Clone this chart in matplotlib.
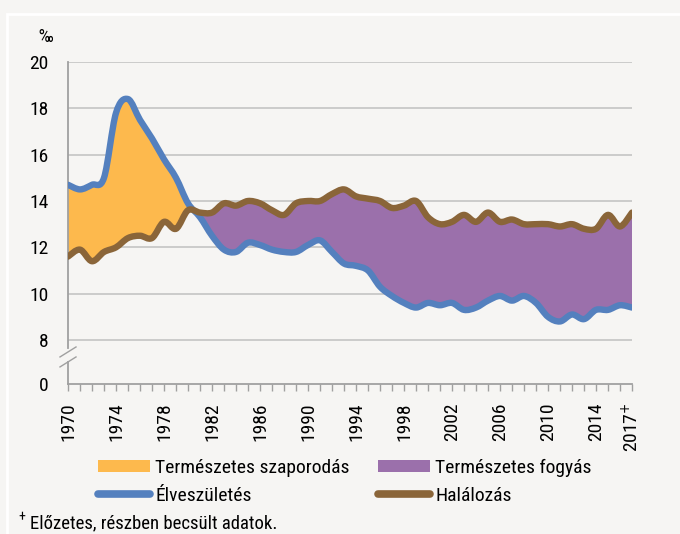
import numpy as np
import matplotlib.pyplot as plt
from matplotlib.patches import Patch, Rectangle, PathPatch
from matplotlib.lines import Line2D
from matplotlib.path import Path

plt.rcParams['font.family'] = ['Roboto Condensed', 'Liberation Sans Narrow', 'Open Sans Condensed',
                               'DejaVu Sans Condensed', 'Liberation Sans', 'DejaVu Sans']
plt.rcParams['font.stretch'] = 'condensed'

# éves adatok, ezer lakosra
years = list(range(1970, 2018))
births = [14.7, 14.5, 14.7, 15.0, 17.8, 18.4, 17.5, 16.7, 15.8, 15.0,
          13.9, 13.3, 12.5, 11.9, 11.8, 12.2, 12.1, 11.9, 11.8, 11.8,
          12.1, 12.3, 11.8, 11.3, 11.2, 11.0, 10.3, 9.9, 9.6, 9.4,
          9.6, 9.5, 9.6, 9.3, 9.4, 9.7, 9.9, 9.7, 9.9, 9.6,
          9.0, 8.8, 9.1, 8.9, 9.3, 9.3, 9.5, 9.4]
deaths = [11.6, 11.9, 11.4, 11.8, 12.0, 12.4, 12.5, 12.4, 13.1, 12.8,
          13.6, 13.5, 13.5, 13.9, 13.8, 14.0, 13.9, 13.6, 13.4, 13.9,
          14.0, 14.0, 14.3, 14.5, 14.2, 14.1, 14.0, 13.7, 13.8, 14.0,
          13.3, 13.0, 13.1, 13.4, 13.1, 13.5, 13.1, 13.2, 13.0, 13.0,
          13.0, 12.9, 13.0, 12.8, 12.8, 13.4, 12.9, 13.5]
tick_years = [1970, 1974, 1978, 1982, 1986, 1990, 1994, 1998, 2002, 2006, 2010, 2014, 2017]
tick_labels = ['1970', '1974', '1978', '1982', '1986', '1990', '1994', '1998',
               '2002', '2006', '2010', '2014', '2017$^{+}$']
y_ticks = [8, 10, 12, 14, 16, 18, 20]

bg = '#f6f5f3'
orange = '#fdb94d'
purple = '#9b70ab'
blue = '#5480be'
brown = '#8a6539'
grid = '#c0c0c0'
axis_c = '#a0a0a0'

x = np.array(years, dtype=float)
b = np.array(births)
d = np.array(deaths)
y0 = 6.1  # a tengelytörés alatti "0" helye


def smooth_verts(xs, ys):
    # Excel-szerű simított vonal köbös Bézier-görbékkel
    pts = np.column_stack([xs, ys])
    n = len(pts)
    verts = [pts[0]]
    for i in range(n - 1):
        p0 = pts[i - 1] if i > 0 else pts[i]
        p1 = pts[i]
        p2 = pts[i + 1]
        p3 = pts[i + 2] if i + 2 < n else pts[i + 1]
        verts += [p1 + (p2 - p0) / 6, p2 - (p3 - p1) / 6, p2]
    codes = [Path.MOVETO] + [Path.CURVE4] * (len(verts) - 1)
    return verts, codes


vb, cb = smooth_verts(x, b)
vd, cd = smooth_verts(x, d)

# a két görbe közötti terület
area = Path(vb + vd[::-1] + [vb[0]],
            cb + [Path.LINETO] + [Path.CURVE4] * (len(vd) - 1) + [Path.CLOSEPOLY])
diff = b - d
i = np.where(np.sign(diff[:-1]) != np.sign(diff[1:]))[0][0]
cross = x[i] + diff[i] / (diff[i] - diff[i + 1])

fig = plt.figure(figsize=(6.8, 5.34), dpi=100, facecolor=bg)
fig.patches.append(Rectangle((7 / 680, -0.1), 1.2, (534 - 14) / 534 + 0.1,
                             transform=fig.transFigure, facecolor=bg,
                             edgecolor='white', lw=2, zorder=-5))
ax = fig.add_axes([68 / 680, (534 - 384) / 534, 564 / 680, 322 / 534])
ax.set_facecolor(bg)
ax.set_zorder(2)

p_plus = ax.add_patch(PathPatch(area, facecolor=orange, edgecolor='none', zorder=2))
p_plus.set_clip_path(Rectangle((1960, 0), cross - 1960, 30, transform=ax.transData))
p_minus = ax.add_patch(PathPatch(area, facecolor=purple, edgecolor='none', zorder=2))
p_minus.set_clip_path(Rectangle((cross, 0), 2030 - cross, 30, transform=ax.transData))

ax.add_patch(PathPatch(Path(vb, cb), facecolor='none', edgecolor=blue, lw=4.6,
                       joinstyle='round', capstyle='round', zorder=3))
ax.add_patch(PathPatch(Path(vd, cd), facecolor='none', edgecolor=brown, lw=4.6,
                       joinstyle='round', capstyle='round', zorder=4))

ax.set_xlim(1970, 2017)
ax.set_ylim(y0, 20)
for t in y_ticks:
    ax.axhline(t, color=grid, lw=1.1, zorder=1)
ax.set_yticks([y0] + y_ticks)
ax.set_yticklabels(['0'] + [str(t) for t in y_ticks], fontsize=14)
ax.tick_params(axis='y', length=0, pad=14)

ax.set_xticks(years, minor=True)
ax.set_xticks(tick_years)
ax.set_xticklabels(tick_labels, rotation=90, fontsize=14)
ax.tick_params(axis='x', which='both', direction='out', length=5, width=1, color=axis_c, pad=8)

for s in ['top', 'right', 'left']:
    ax.spines[s].set_visible(False)
ax.spines['bottom'].set_color(axis_c)
ax.spines['bottom'].set_linewidth(1.3)

# bal tengely törése
ax.plot([0, 0], [0, 0.068], color=axis_c, lw=1.3, transform=ax.transAxes, clip_on=False)
ax.plot([0, 0], [0.112, 1], color=axis_c, lw=1.3, transform=ax.transAxes, clip_on=False)
ax.plot([-0.0142, 0.0142], [0.084, 0.115], color=axis_c, lw=1, transform=ax.transAxes, clip_on=False)
ax.plot([-0.0142, 0.0142], [0.053, 0.084], color=axis_c, lw=1, transform=ax.transAxes, clip_on=False)

fig.text(38 / 680, 1 - 37 / 534, '‰', fontsize=13, va='center', ha='left')

handles = [Patch(facecolor=orange, edgecolor='none'),
           Line2D([], [], color=blue, lw=5.5, solid_capstyle='round'),
           Patch(facecolor=purple, edgecolor='none'),
           Line2D([], [], color=brown, lw=5.5, solid_capstyle='round')]
labels = ['Természetes szaporodás', 'Élveszületés', 'Természetes fogyás', 'Halálozás']
fig.legend(handles, labels, ncol=2, loc='upper left',
           bbox_to_anchor=(98 / 680, 1 - 459 / 534), frameon=False, fontsize=14,
           handlelength=2.65, handleheight=0.57, handletextpad=0.3,
           columnspacing=1.45, labelspacing=0.5, borderpad=0, borderaxespad=0)

fig.text(18 / 680, 1 - 517 / 534, '+', fontsize=10, va='center', ha='left')
fig.text(30 / 680, 1 - 523 / 534, 'Előzetes, részben becsült adatok.', fontsize=13.5,
         va='center', ha='left')

fig.savefig('out.png', dpi=100, facecolor=bg)
